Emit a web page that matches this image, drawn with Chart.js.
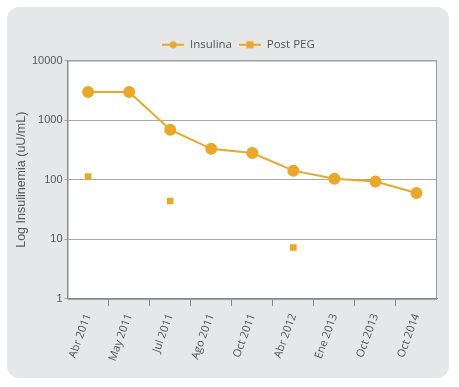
<!DOCTYPE html>
<html>
<head>
<meta charset="utf-8">
<script src="https://cdn.jsdelivr.net/npm/chart.js@4/dist/chart.umd.min.js"></script>
<style>
  html, body { margin: 0; padding: 0; background: #fff; }
  #wrap { width: 459px; height: 387px; }
</style>
</head>
<body>
<div id="wrap"><canvas id="insulinaChart"></canvas></div>
<script>
const fechas = ['Abr 2011', 'May 2011', 'Jul 2011', 'Ago 2011', 'Oct 2011', 'Abr 2012', 'Ene 2013', 'Oct 2013', 'Oct 2014'];
const insulina = [2950, 2950, 690, 330, 280, 142, 104, 93, 60];
const postPeg = [113, null, 44, null, null, 7.3, null, null, null];
const yTicks = [1, 10, 100, 1000, 10000];

const naranja = '#e9a82b';

function legendIcon(style) {
    const c = document.createElement('canvas');
    c.width = 22;
    c.height = 10;
    const ctx = c.getContext('2d');
    ctx.strokeStyle = naranja;
    ctx.fillStyle = naranja;
    ctx.lineWidth = 2;
    ctx.beginPath();
    ctx.moveTo(0, 5);
    ctx.lineTo(22, 5);
    ctx.stroke();
    ctx.beginPath();
    if (style === 'circle') {
        ctx.arc(11, 5, 3.5, 0, Math.PI * 2);
    } else {
        ctx.rect(7.5, 1.5, 7, 7);
    }
    ctx.fill();
    return c;
}

const fondo = {
    id: 'fondo',
    afterLayout(chart) {
        // la leyenda del original queda algo a la derecha del centro
        chart.legend.left += 13;
        chart.legend.right += 13;
    },
    beforeDraw(chart) {
        const ctx = chart.ctx;
        const a = chart.chartArea;
        ctx.save();
        ctx.fillStyle = '#e6e7e8';
        ctx.beginPath();
        ctx.roundRect(7, 7, 442, 371, 12);
        ctx.fill();
        ctx.fillStyle = '#ffffff';
        ctx.fillRect(a.left, a.top, a.right - a.left, a.bottom - a.top);
        ctx.restore();
    },
    beforeDatasetsDraw(chart) {
        const ctx = chart.ctx;
        const a = chart.chartArea;
        ctx.save();
        ctx.strokeStyle = '#9a9a9a';
        ctx.lineWidth = 1;
        ctx.strokeRect(a.left + 0.5, a.top + 0.5, a.right - a.left - 1, a.bottom - a.top);
        ctx.restore();
    }
};

new Chart(
    document.getElementById('insulinaChart'),
    {
        type: 'line',
        data: {
            labels: fechas,
            datasets: [{
                label: 'Insulina',
                data: insulina,
                borderColor: naranja,
                backgroundColor: naranja,
                borderWidth: 2,
                pointStyle: 'circle',
                pointRadius: 5,
                pointHoverRadius: 5,
                tension: 0
            }, {
                label: 'Post PEG',
                data: postPeg,
                borderColor: naranja,
                backgroundColor: naranja,
                showLine: false,
                pointStyle: 'rect',
                pointRadius: 4.7,
                pointBorderWidth: 0
            }]
        },
        options: {
            responsive: true,
            maintainAspectRatio: false,
            animation: false,
            layout: {
                padding: { left: 14, right: 22, top: 32, bottom: 18 }
            },
            plugins: {
                tooltip: { enabled: false },
                legend: {
                    position: 'top',
                    labels: {
                        usePointStyle: true,
                        pointStyleWidth: 22,
                        boxHeight: 10,
                        padding: 7,
                        color: '#555555',
                        font: { family: 'Open Sans', size: 11.5 },
                        generateLabels(chart) {
                            return chart.data.datasets.map((ds, i) => ({
                                text: ds.label,
                                pointStyle: legendIcon(i === 0 ? 'circle' : 'rect'),
                                fillStyle: naranja,
                                strokeStyle: naranja,
                                lineWidth: 0,
                                fontColor: '#555555',
                                datasetIndex: i
                            }));
                        }
                    }
                }
            },
            scales: {
                x: {
                    offset: true,
                    border: { color: '#888888' },
                    grid: {
                        offset: true,
                        drawOnChartArea: false,
                        drawTicks: true,
                        tickLength: 7,
                        color: (ctx) => (ctx.index > 0 && ctx.index < fechas.length) ? '#888888' : 'rgba(0,0,0,0)'
                    },
                    ticks: {
                        minRotation: 70,
                        maxRotation: 70,
                        padding: 6,
                        color: '#555555',
                        font: { family: 'Open Sans', size: 11 }
                    }
                },
                y: {
                    type: 'logarithmic',
                    min: 1,
                    max: 10000,
                    afterBuildTicks(scale) {
                        scale.ticks = yTicks.map(v => ({ value: v }));
                    },
                    border: { color: '#888888' },
                    grid: {
                        color: '#a8a8a8',
                        tickLength: 3
                    },
                    ticks: {
                        padding: 2,
                        color: '#555555',
                        font: { family: 'Liberation Sans', size: 11 },
                        callback: (v) => String(v)
                    },
                    title: {
                        display: true,
                        text: 'Log Insulinemia (uU/mL)',
                        color: '#5a5a5a',
                        padding: { top: 0, bottom: 1 },
                        font: { family: 'Liberation Sans', size: 12.5 }
                    }
                }
            }
        },
        plugins: [fondo]
    }
);
</script>
</body>
</html>
